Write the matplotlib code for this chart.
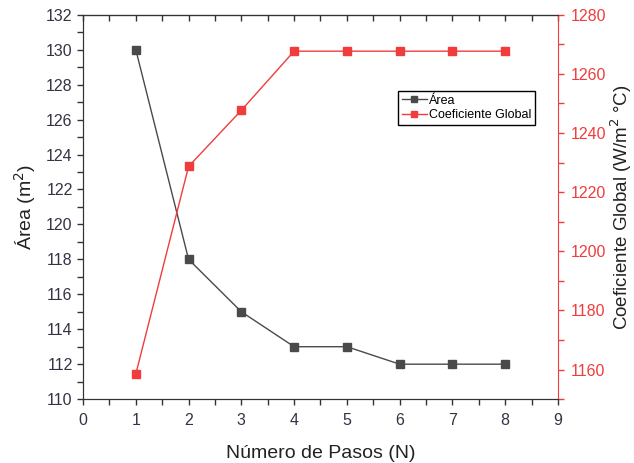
import matplotlib.pyplot as plt
from matplotlib.ticker import MultipleLocator

plt.rcParams['font.family'] = ['Liberation Sans', 'DejaVu Sans']

# data
pasos = [1, 2, 3, 4, 5, 6, 7, 8]
area = [130, 118, 115, 113, 113, 112, 112, 112]
coef_global = [1158.5, 1228.7, 1247.7, 1267.7, 1267.7, 1267.7, 1267.7, 1267.7]

gris = '#4a4a4a'
rojo = '#f03c3c'

fig = plt.figure(figsize=(6.34, 4.63), dpi=100)
ax = fig.add_axes([0.131, 0.138, 0.749, 0.830])
ax2 = ax.twinx()

l1, = ax.plot(pasos, area, color=gris, lw=1, marker='s', ms=6, label='Área')
l2, = ax2.plot(pasos, coef_global, color=rojo, lw=1, marker='s', ms=6, label='Coeficiente Global')

# left axis
ax.set_xlim(0, 9)
ax.set_ylim(110, 132)
ax.xaxis.set_major_locator(MultipleLocator(1))
ax.xaxis.set_minor_locator(MultipleLocator(0.5))
ax.yaxis.set_major_locator(MultipleLocator(2))
ax.yaxis.set_minor_locator(MultipleLocator(1))
ax.tick_params(axis='both', which='both', direction='out', length=4, width=1, labelsize=11.5,
               colors='#333333', top=False)
ax.tick_params(axis='both', labelcolor='#333344')
ax.tick_params(axis='x', pad=6)
ax.set_xlabel('Número de Pasos (N)', fontsize=14, color='#222222', labelpad=12)
ax.set_ylabel('Área (m$^2$)', fontsize=14, color='#222222', labelpad=6)

# top ticks (inward, no labels)
sec = ax.secondary_xaxis('top')
sec.xaxis.set_major_locator(MultipleLocator(1))
sec.xaxis.set_minor_locator(MultipleLocator(0.5))
sec.tick_params(which='both', direction='in', length=4, width=1, labeltop=False, colors='#333333')

# right axis
ax2.set_ylim(1150, 1280)
ax2.yaxis.set_major_locator(MultipleLocator(20))
ax2.yaxis.set_minor_locator(MultipleLocator(10))
ax2.tick_params(axis='y', which='both', direction='out', length=4, width=1, colors=rojo, labelsize=11.5,
                pad=5)
ax2.set_ylabel('Coeficiente Global (W/m$^2$ °C)', fontsize=13.5, color='#222222', labelpad=2)

for s in ['left', 'bottom', 'top']:
    ax.spines[s].set_color('#333333')
    ax2.spines[s].set_color('#333333')
ax2.spines['right'].set_color(rojo)
ax.spines['right'].set_visible(False)

leg = ax.legend(handles=[l1, l2], loc='upper left', bbox_to_anchor=(0.663, 0.802),
                borderaxespad=0, fontsize=9, fancybox=False, edgecolor='black',
                framealpha=1, handlelength=2, handletextpad=0.2, borderpad=0.3,
                labelspacing=0.2, markerscale=0.8)
leg.get_frame().set_linewidth(1)

fig.savefig('out.png', dpi=100)
